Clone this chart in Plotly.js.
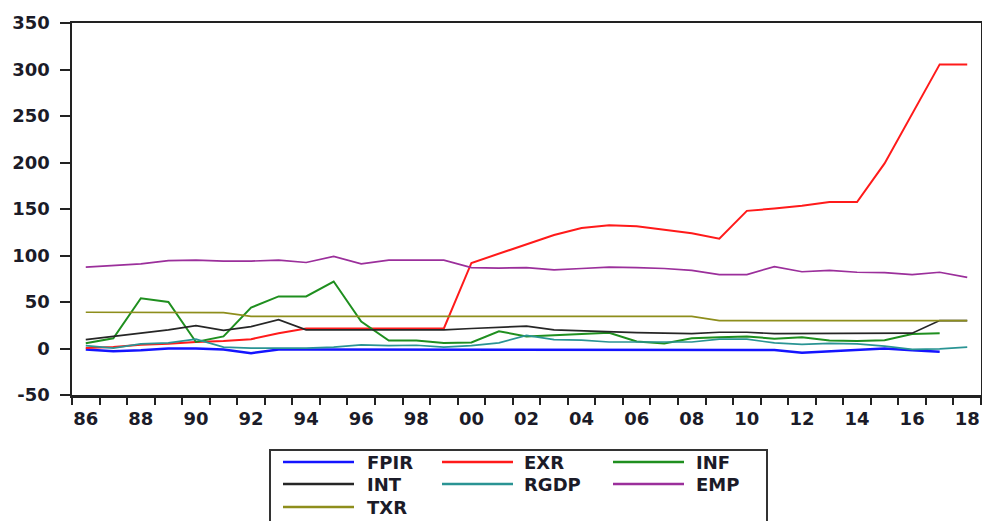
<!DOCTYPE html>
<html>
<head>
<meta charset="utf-8">
<script src="https://cdn.plot.ly/plotly-3.0.1.min.js"></script>
<style>html,body{margin:0;padding:0;background:#fff;}#chart{width:982px;height:521px;}</style>
</head>
<body>
<div id="chart"></div>
<script>
// Years 1986..2018
const years = [1986,1987,1988,1989,1990,1991,1992,1993,1994,1995,1996,1997,1998,1999,2000,2001,2002,2003,2004,2005,2006,2007,2008,2009,2010,2011,2012,2013,2014,2015,2016,2017,2018];

const seriesNames = ["FPIR","EXR","INF","INT","RGDP","EMP","TXR"];

const FPIR = [-1,-3,-2,0,0,-1,-5,-1,-1,-1,-1,-1,-1,-1,-1,-1.5,-1,-1,-1,-1,-1,-1.5,-1,-1.5,-1.5,-1.5,-4.5,-3,-1,0,-2,-3.5,null];
const EXR  = [0.5,1.5,4,5,7,8,10,16.5,21.5,21.5,21.5,21.5,21.5,21.5,92,102,112.5,122,129.5,132.5,131.5,127.5,124,118,148,150.5,153.5,157.5,157.5,199,252,305.5,305.5];
const INF  = [5.7,11,54,50,7,13,44,56,56,72,29,8.5,8.5,6,6.5,18.5,13,14,15.5,17,7.5,5.4,11,12,13,10.5,12,8.5,8,9,15.7,16.5,null];
const INT  = [9.5,13,16,20,24.5,19.5,23.5,31,20,20,20,19.5,19.5,20,21.5,23,24,20,19,17.5,17,16.5,16,17.5,17.5,16,16,16,16,16,16.5,30,30];
const RGDP = [3,0.5,5,6,10,1.5,0.5,0.5,0.5,1.5,4,3,3.5,1.5,3,6,14,9.5,9,7,7,6.5,7,10,10,6,4.5,5.5,5,2.5,-1,-0.5,1.5];
const EMP  = [87.5,89,91,94.5,95,94,94,95,92.5,99,91,95,95,95,87,86.5,87,84.5,86,87.5,87,86,84,79.5,79.5,88,82.5,84,82,81.5,79.5,82,76.5];
const TXR  = [39,39,39,39,39,38.5,34.5,34.5,34.5,34.5,34.5,34.5,34.5,34.5,34.5,34.5,34.5,34.5,34.5,34.5,34.5,34.5,34.5,30,30,30,30,30,30,30,30,30,30];

const seriesValues = [FPIR, EXR, INF, INT, RGDP, EMP, TXR];
const colors = ["#1414ff","#ff1a1a","#1f8f1f","#262626","#2a9494","#9b2f9b","#8e8e1c"];
const widths = [2.5,2,2,1.7,1.7,1.7,1.7];

const xTickVals = [1986,1988,1990,1992,1994,1996,1998,2000,2002,2004,2006,2008,2010,2012,2014,2016,2018];
const xTickText = ["86","88","90","92","94","96","98","00","02","04","06","08","10","12","14","16","18"];
const yTickVals = [-50,0,50,100,150,200,250,300,350];
const yTickText = ["-50","0","50","100","150","200","250","300","350"];

const minorVals = [];
for (let i = 0; i <= years.length; i++) minorVals.push(years[0] - 0.5 + i);

const traces = seriesNames.map((n, i) => ({
  x: years, y: seriesValues[i], name: n, type: "scatter", mode: "lines",
  line: {color: colors[i], width: widths[i]}, showlegend: false, connectgaps: false
}));

const FONT = {family: "DejaVu Sans, Arial, sans-serif", size: 18, color: "#1b1b28", weight: "bold"};

// custom legend (3 columns), positions in paper coords
const plotL = 72, plotR = 981, plotT = 23, plotB = 395;
const pw = plotR - plotL, ph = plotB - plotT;
const px = X => (X - plotL) / pw;
const py = Y => (plotB - Y) / ph;
const colLineX = [283, 442, 613];
const colTextX = [365, 522, 694];
const rowY = [462, 484, 507];
const lineLen = 71;

const shapes = [{
  type: "rect", xref: "paper", yref: "paper",
  x0: px(270), x1: px(767), y0: py(560), y1: py(450),
  line: {color: "#333", width: 2}, fillcolor: "rgba(0,0,0,0)"
}];
const annotations = [];
seriesNames.forEach((n, i) => {
  const c = i % 3, r = Math.floor(i / 3);
  shapes.push({type: "line", xref: "paper", yref: "paper",
    x0: px(colLineX[c]), x1: px(colLineX[c] + lineLen), y0: py(rowY[r]), y1: py(rowY[r]),
    line: {color: colors[i], width: 2.5}});
  annotations.push({xref: "paper", yref: "paper", x: px(colTextX[c]), y: py(rowY[r]),
    xanchor: "left", yanchor: "middle", text: n, showarrow: false, font: FONT});
});

const layout = {
  width: 982, height: 521,
  margin: {l: plotL, r: 982 - plotR, t: plotT, b: 521 - plotB},
  paper_bgcolor: "#fff", plot_bgcolor: "#fff",
  font: FONT,
  showlegend: false,
  xaxis: {
    range: [1985.5, 2018.5], tickmode: "array", tickvals: xTickVals, ticktext: xTickText,
    ticks: "", showgrid: false, zeroline: false,
    showline: true, linecolor: "#222", linewidth: 2.5, mirror: true,
    tickfont: FONT, ticklabelstandoff: 6,
    minor: {tickmode: "array", tickvals: minorVals, ticks: "outside", ticklen: 7, tickwidth: 2, tickcolor: "#222", showgrid: false}
  },
  yaxis: {
    range: [-50, 350], tickmode: "array", tickvals: yTickVals, ticktext: yTickText,
    ticks: "outside", ticklen: 10, tickwidth: 2, tickcolor: "#222",
    showgrid: false, zeroline: false,
    showline: true, linecolor: "#222", linewidth: 2.5, mirror: true,
    tickfont: FONT, ticklabelstandoff: 6
  },
  shapes: shapes,
  annotations: annotations
};

Plotly.newPlot("chart", traces, layout, {displayModeBar: false, staticPlot: true});
</script>
</body>
</html>
